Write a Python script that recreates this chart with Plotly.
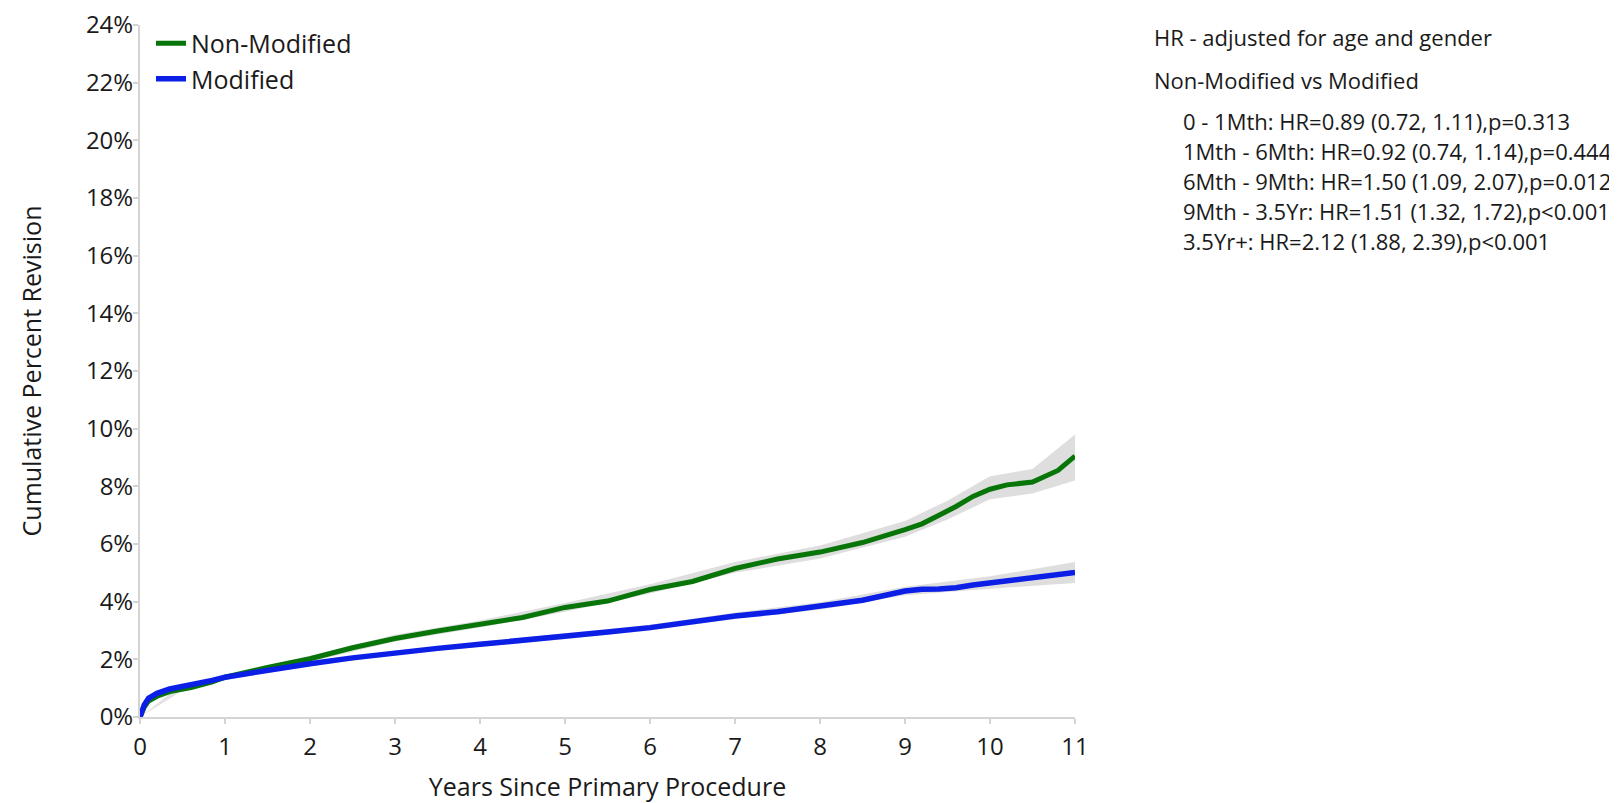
import plotly.graph_objects as go

# ---- data ----
years = [0, 0.02, 0.05, 0.1, 0.2, 0.35, 0.6, 0.85, 1.0, 1.5, 2.0, 2.5, 3.0, 3.5, 4.0, 4.5,
         5.0, 5.5, 6.0, 6.5, 7.0, 7.5, 8.0, 8.5, 9.0, 9.2, 9.4, 9.6, 9.8, 10.0, 10.2,
         10.5, 10.8, 11.0]
non_modified = [0, 0.2, 0.35, 0.55, 0.72, 0.88, 1.02, 1.22, 1.38, 1.72, 2.02, 2.4, 2.72,
                2.98, 3.22, 3.45, 3.8, 4.02, 4.42, 4.7, 5.15, 5.48, 5.72, 6.05, 6.5, 6.7,
                7.0, 7.3, 7.65, 7.9, 8.05, 8.15, 8.55, 9.05]
modified = [0, 0.25, 0.42, 0.65, 0.82, 0.97, 1.1, 1.27, 1.38, 1.62, 1.85, 2.05, 2.23, 2.38,
            2.52, 2.65, 2.8, 2.95, 3.1, 3.3, 3.5, 3.65, 3.85, 4.05, 4.37, 4.43, 4.44, 4.48,
            4.58, 4.65, 4.7, 4.84, 4.93, 5.01]

ci_years = [0, 0.5, 1, 2, 3, 4, 5, 6, 7, 8, 9, 9.5, 10, 10.5, 11]
non_mod_lo = [0, 0.92, 1.3, 1.92, 2.62, 3.1, 3.65, 4.28, 5.0, 5.5, 6.25, 6.85, 7.55, 7.75, 8.2]
non_mod_hi = [0, 1.02, 1.45, 2.12, 2.85, 3.35, 3.95, 4.6, 5.38, 5.95, 6.8, 7.5, 8.35, 8.6, 9.8]
mod_ci_years = [0, 0.5, 1, 2, 3, 4, 5, 6, 7, 8, 9, 10, 11]
mod_lo = [0, 1.02, 1.28, 1.77, 2.15, 2.44, 2.7, 3.0, 3.4, 3.72, 4.22, 4.45, 4.65]
mod_hi = [0, 1.14, 1.42, 1.92, 2.3, 2.6, 2.88, 3.2, 3.62, 3.98, 4.52, 4.88, 5.38]

x_ticks = list(range(0, 12))
y_ticks = list(range(0, 25, 2))
y_tick_labels = [f"{v}%" for v in y_ticks]

hr_title = "HR - adjusted for age and gender"
hr_compare = "Non-Modified vs Modified"
hr_lines = [
    "0 - 1Mth: HR=0.89 (0.72, 1.11),p=0.313",
    "1Mth - 6Mth: HR=0.92 (0.74, 1.14),p=0.444",
    "6Mth - 9Mth: HR=1.50 (1.09, 2.07),p=0.012",
    "9Mth - 3.5Yr: HR=1.51 (1.32, 1.72),p<0.001",
    "3.5Yr+: HR=2.12 (1.88, 2.39),p<0.001",
]

FONT = "Open Sans"
TXT = "#1a1a1a"
BAND = "#dedede"
GREEN = "#077507"
BLUE = "#0c1fe6"

fig = go.Figure()

# confidence bands
fig.add_trace(go.Scatter(x=ci_years, y=non_mod_lo, mode="lines", line=dict(width=0, color=BAND),
                         showlegend=False, hoverinfo="skip"))
fig.add_trace(go.Scatter(x=ci_years, y=non_mod_hi, mode="lines", line=dict(width=0, color=BAND),
                         fill="tonexty", fillcolor=BAND, showlegend=False, hoverinfo="skip"))
fig.add_trace(go.Scatter(x=mod_ci_years, y=mod_lo, mode="lines", line=dict(width=0, color=BAND),
                         showlegend=False, hoverinfo="skip"))
fig.add_trace(go.Scatter(x=mod_ci_years, y=mod_hi, mode="lines", line=dict(width=0, color=BAND),
                         fill="tonexty", fillcolor=BAND, showlegend=False, hoverinfo="skip"))

fig.add_trace(go.Scatter(x=years, y=non_modified, mode="lines", name="Non-Modified",
                         legendgroup="nm", line=dict(color=GREEN, width=5)))
fig.add_trace(go.Scatter(x=years, y=modified, mode="lines", name="Modified",
                         legendgroup="m", line=dict(color=BLUE, width=5.5)))

axis_common = dict(showline=True, linecolor="#d4d4d4", linewidth=2, ticks="outside",
                   tickcolor="#d4d4d4", ticklen=5, tickwidth=1.5, showgrid=False,
                   zeroline=False, automargin=False, ticklabeloverflow="allow",
                   tickfont=dict(family=FONT, size=24, color=TXT))

# plot area geometry in figure px (the page body adds an 8px offset)
L, PW, T, PH = 132, 935, 17, 692
W, H = 1609, 795

fig.update_layout(
    width=W, height=H,
    margin=dict(l=L, r=W - L - PW, t=T, b=H - T - PH),
    plot_bgcolor="white", paper_bgcolor="white",
    font=dict(family=FONT, color=TXT),
    xaxis=dict(range=[0, 11], tickvals=x_ticks, ticklabelstandoff=2,
               title=dict(text="Years Since Primary Procedure",
                          font=dict(family=FONT, size=25, color=TXT), standoff=18),
               **axis_common),
    yaxis=dict(range=[0, 24], tickvals=y_ticks, ticktext=y_tick_labels, ticklabelstandoff=-5,
               title=dict(text="Cumulative Percent Revision",
                          font=dict(family=FONT, size=25, color=TXT), standoff=37),
               **axis_common),
    legend=dict(x=11 / PW, y=(T + PH - 12.6) / PH, xanchor="left", yanchor="top",
                bgcolor="rgba(0,0,0,0)",
                font=dict(family=FONT, size=25, color=TXT), tracegroupgap=3,
                itemwidth=30, traceorder="normal"),
    showlegend=True,
)


def paper_x(px):
    return (px - L) / PW


def paper_y(py):
    return (T + PH - py) / PH


ann = [(hr_title, 1144, 29), (hr_compare, 1144, 72)]
for i, t in enumerate(hr_lines):
    ann.append((t, 1173, 113 + 30 * i))
for text, px, py in ann:
    fig.add_annotation(text=text, xref="paper", yref="paper", x=paper_x(px), y=paper_y(py),
                       xanchor="left", yanchor="middle", showarrow=False,
                       font=dict(family=FONT, size=22, color=TXT))

fig.write_html("out.html")
